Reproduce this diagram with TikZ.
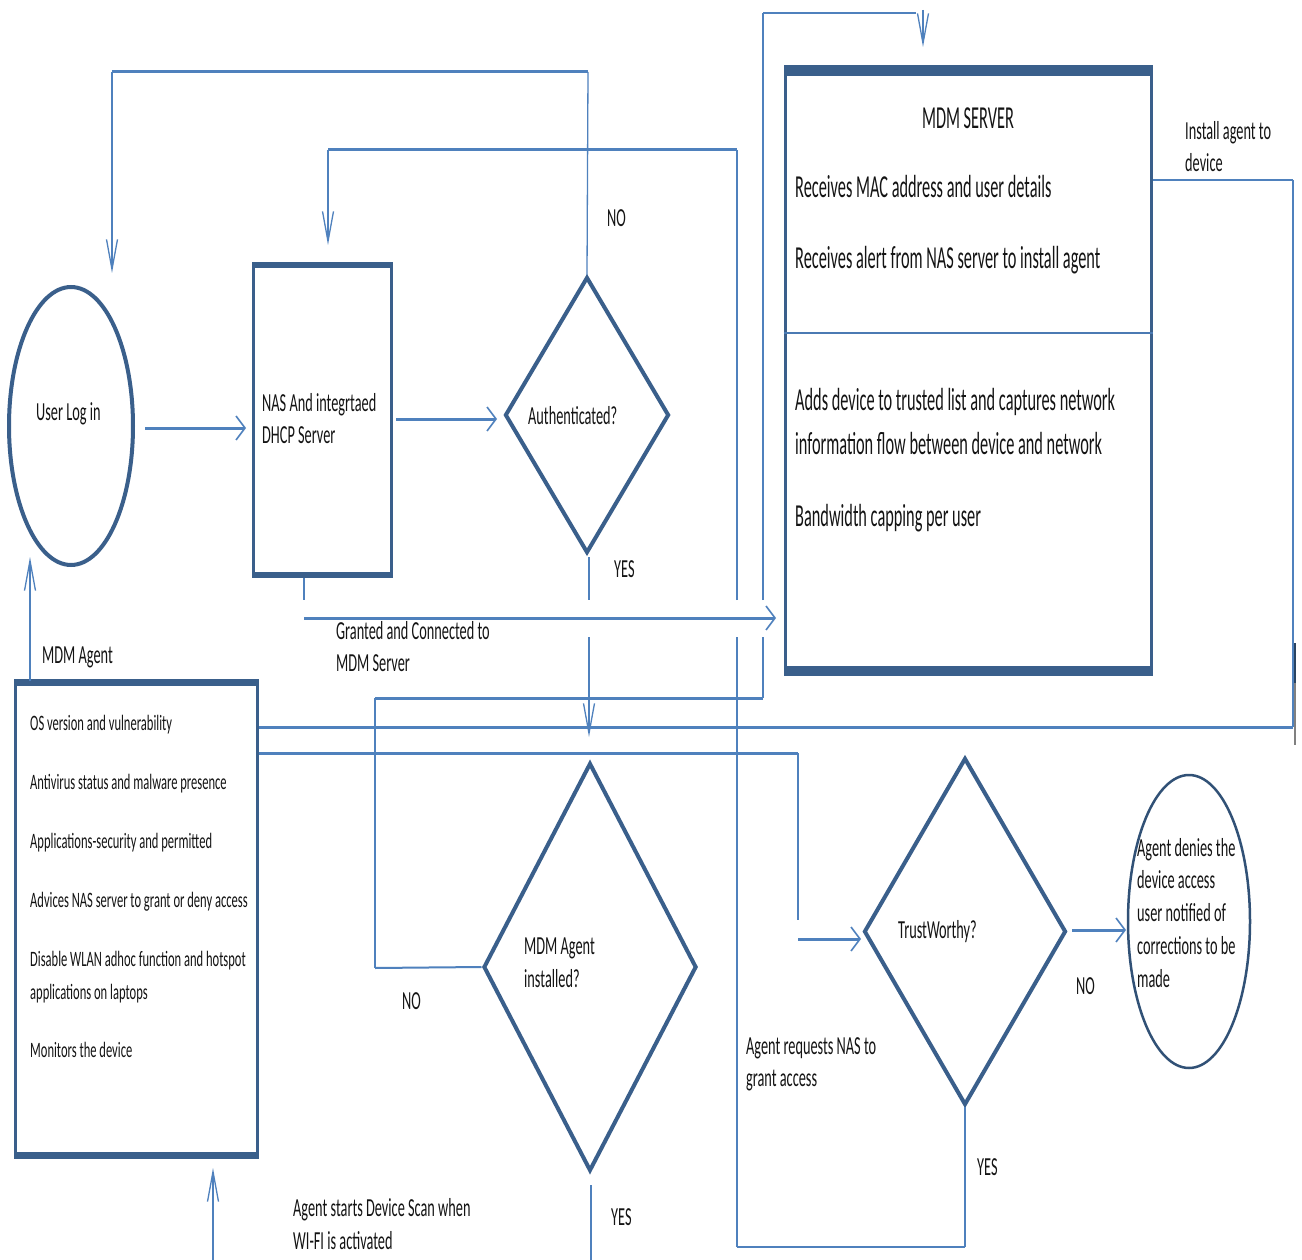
\documentclass[tikz,border=0pt]{standalone}
\usepackage{fontspec}
\setmainfont{Carlito}[FakeStretch=0.5]
\newfontfamily\fbig{Carlito}[FakeStretch=0.51]
\newfontfamily\flbl{Carlito}[FakeStretch=0.55]
\newfontfamily\fsml{Carlito}[FakeStretch=0.57]
\usetikzlibrary{shapes.geometric,arrows.meta}
\definecolor{shapeblue}{HTML}{3A5F8B}
\definecolor{lineblue}{HTML}{4F81BD}
\definecolor{txt}{HTML}{141414}
\begin{document}
\begin{tikzpicture}[x=1pt,y=-1pt,
  ln/.style={draw=lineblue,line width=1.3pt},
  lnm/.style={draw=lineblue,line width=2pt},
  lnk/.style={draw=lineblue,line width=3pt},
  vtip/.style={-{Straight Barb[length=30pt,width=11pt,line width=1.3pt]}},
  htip/.style={-{Straight Barb[length=9pt,width=24pt,line width=1.6pt]}},
  box/.style={rectangle,draw=shapeblue,line width=3pt,inner sep=0pt},
  dia/.style={diamond,draw=shapeblue,line width=4pt,inner sep=0pt},
  lbl/.style={anchor=base west,inner sep=0pt,text=txt,font=\flbl\fontsize{26}{32}\selectfont},
  big/.style={anchor=base west,inner sep=0pt,text=txt,font=\fbig\fontsize{32}{44}\selectfont},
  small/.style={anchor=base west,inner sep=0pt,text=txt,font=\fsml\fontsize{22}{28}\selectfont}]
\useasboundingbox (0,0) rectangle (1302,1260);
\fill[white] (0,0) rectangle (1302,1260);

% ---------- shapes ----------
\node[ellipse,draw=shapeblue,line width=4pt,minimum width=124pt,minimum height=278pt,inner sep=0pt] (login) at (71,426) {};
\node[box,minimum width=138pt,minimum height=310pt] (nas) at (322,420) {};
\fill[shapeblue] (251.5,262) rectangle (392.5,268);
\fill[shapeblue] (251.5,572) rectangle (392.5,578);
\node[dia,minimum width=164pt,minimum height=276pt] (auth) at (587,415) {};
\node[box,minimum width=366pt,minimum height=603pt] (server) at (968,368.5) {};
\fill[shapeblue] (783.5,65) rectangle (1152.5,76);
\fill[shapeblue] (783.5,666) rectangle (1152.5,676);
\draw[draw=lineblue!80!shapeblue,line width=2pt] (server.west |- 0,333) -- (server.east |- 0,333);
\node[box,minimum width=242pt,minimum height=474pt] (agent) at (136,919) {};
\fill[shapeblue] (13.5,679) rectangle (258.5,686);
\fill[shapeblue] (13.5,1152) rectangle (258.5,1159);
\node[dia,minimum width=213pt,minimum height=408pt] (agentq) at (590,967) {};
\node[dia,minimum width=202pt,minimum height=347pt] (trust) at (965,931.5) {};
\node[ellipse,draw=shapeblue!85!black,line width=2.5pt,minimum width=122pt,minimum height=293pt,inner sep=0pt] (deny) at (1189,921.5) {};

% ---------- connectors ----------
% Authenticated? NO -> User Log in
\coordinate (n1) at (588,72); \coordinate (n2) at (112,72); \coordinate (n3) at (112,273);
\draw[ln] (auth.north) -- (n1);
\draw[lnk] (n1) -- (n2);
\draw[ln,vtip] (n2) -- (n3);
% TrustWorthy? YES -> NAS
\coordinate (y1) at (965,1247); \coordinate (y2) at (737,1247); \coordinate (y3) at (737,637);
\coordinate (y4) at (737,600); \coordinate (y5) at (737,150); \coordinate (y6) at (328,150); \coordinate (y7) at (328,245);
\draw[ln] (trust.south) -- (y1);
\draw[lnm] (y1) -- (y2);
\draw[ln] (y2) -- (y3);
\draw[ln] (y4) -- (y5);
\draw[lnk] (y5) -- (y6);
\draw[ln,vtip] (y6) -- (y7);
% MDM Agent installed? NO -> MDM server
\coordinate (m1) at (375,968); \coordinate (m2) at (375,698); \coordinate (m3) at (763,698);
\coordinate (m4) at (763,637); \coordinate (m5) at (763,600); \coordinate (m6) at (763,13);
\coordinate (m7) at (916,13); \coordinate (m8) at (923,10); \coordinate (m9) at (923,47);
\draw[lnm] (agentq.west) -- (m1);
\draw[ln] (m1) -- (m2);
\draw[lnk] (m2) -- (m3);
\draw[ln] (m3) -- (m4);
\draw[ln] (m5) -- (m6);
\draw[lnm] (m6) -- (m7);
\draw[ln,vtip] (m8) -- (m9);
% MDM Agent installed? YES
\coordinate (b1) at (591,1185); \coordinate (b2) at (591,1260);
\draw[lnm] (b1) -- (b2);
% Authenticated? YES -> MDM Agent installed?
\coordinate (a1) at (589,557); \coordinate (a2) at (589,600); \coordinate (a3) at (589,637); \coordinate (a4) at (589,737);
\draw[ln] (a1) -- (a2);
\draw[ln,vtip] (a3) -- (a4);
% User Log in -> NAS
\coordinate (u1) at (145,428); \coordinate (u2) at (246,428);
\draw[lnk,htip] (u1) -- (u2);
% NAS -> Authenticated?
\coordinate (s1) at (396,419); \coordinate (s2) at (497,419);
\draw[lnk,htip] (s1) -- (s2);
% NAS -> MDM server (granted)
\coordinate (g1) at (304,578); \coordinate (g2) at (304,600); \coordinate (g3) at (304,618); \coordinate (g4) at (776,618);
\draw[ln] (g1) -- (g2);
\draw[lnk,htip] (g3) -- (g4);
% MDM server -> MDM agent (install)
\coordinate (i1) at (1151,180); \coordinate (i2) at (1293,180); \coordinate (i3) at (1293,727);
\draw[lnm] (server.east |- i1) -- (i2);
\draw[ln] (i2) -- (i3);
\draw[lnk] (i3) -- (agent.east |- i3);
\draw[line width=2pt,draw=shapeblue!70!black] (1295,643) -- (1295,683);
\draw[line width=2pt,draw=gray] (1295,683) -- (1295,745);
% MDM agent -> TrustWorthy?
\coordinate (t1) at (798,753); \coordinate (t2) at (798,920); \coordinate (t3) at (798,939); \coordinate (t4) at (861,939);
\draw[lnk] (agent.east |- t1) -- (t1);
\draw[ln] (t1) -- (t2);
\draw[lnk,htip] (t3) -- (t4);
% MDM agent -> User Log in
\coordinate (l1) at (30,557);
\draw[ln,vtip] (agent.north -| l1) -- (l1);
% bottom -> MDM agent
\coordinate (d1) at (213,1260); \coordinate (d2) at (213,1168);
\draw[ln,vtip] (d1) -- (d2);
% TrustWorthy? NO -> deny
\coordinate (w1) at (1072,930); \coordinate (w2) at (1126,930);
\draw[lnk,htip] (w1) -- (w2);

% ---------- texts ----------
\node[lbl] (tlogin) at (36,420) {User Log in};
\node[lbl] (tnas1) at (262,411) {NAS And integrtaed};
\node[lbl] (tnas2) at (262,443) {DHCP Server};
\node[lbl] (tauth) at (528,424) {Authenticated?};
\node[lbl] (tno1) at (607,227) {NO};
\node[lbl] (tyes1) at (614,577) {YES};
\node[lbl] (tgr1) at (336,639) {Granted and Connected to};
\node[lbl] (tgr2) at (336,671) {MDM Server};
\node[big,anchor=base] (ts0) at (968,129) {MDM SERVER};
\node[big] (ts1) at (795,198) {Receives MAC address and user details};
\node[big] (ts2) at (795,269) {Receives alert from NAS server to install agent};
\node[big] (ts3) at (795,410) {Adds device to trusted list and captures network};
\node[big] (ts4) at (795,454) {information flow between device and network};
\node[big] (ts5) at (795,526) {Bandwidth capping per user};
\node[lbl] (tin1) at (1185,140) {Install agent to};
\node[lbl] (tin2) at (1185,172) {device};
\node[lbl] (tmag) at (42,663) {MDM Agent};
\node[small] (tg1) at (30,730) {OS version and vulnerability};
\node[small] (tg2) at (30,789) {Antivirus status and malware presence};
\node[small] (tg3) at (30,848) {Applications-security and permitted};
\node[small] (tg4) at (30,907) {Advices NAS server to grant or deny access};
\node[small] (tg5) at (30,966) {Disable WLAN adhoc function and hotspot};
\node[small] (tg6) at (30,999) {applications on laptops};
\node[small] (tg7) at (30,1057) {Monitors the device};
\node[lbl] (tq1) at (524,954) {MDM Agent};
\node[lbl] (tq2) at (524,987) {installed?};
\node[lbl] (tno2) at (402,1009) {NO};
\node[lbl] (tyes2) at (611,1225) {YES};
\node[lbl] (tsc1) at (293,1216) {Agent starts Device Scan when};
\node[lbl] (tsc2) at (293,1249) {WI-FI is activated};
\node[lbl] (trq1) at (746,1054) {Agent requests NAS to};
\node[lbl] (trq2) at (746,1086) {grant access};
\node[lbl] (ttr) at (898,938) {TrustWorthy?};
\node[lbl] (tno3) at (1076,994) {NO};
\node[lbl] (tyes3) at (977,1175) {YES};
\node[lbl] (tdn1) at (1137,856) {Agent denies the};
\node[lbl] (tdn2) at (1137,888) {device access};
\node[lbl] (tdn3) at (1137,921) {user notified of};
\node[lbl] (tdn4) at (1137,954) {corrections to be};
\node[lbl] (tdn5) at (1137,987) {made};
\end{tikzpicture}
\end{document}
